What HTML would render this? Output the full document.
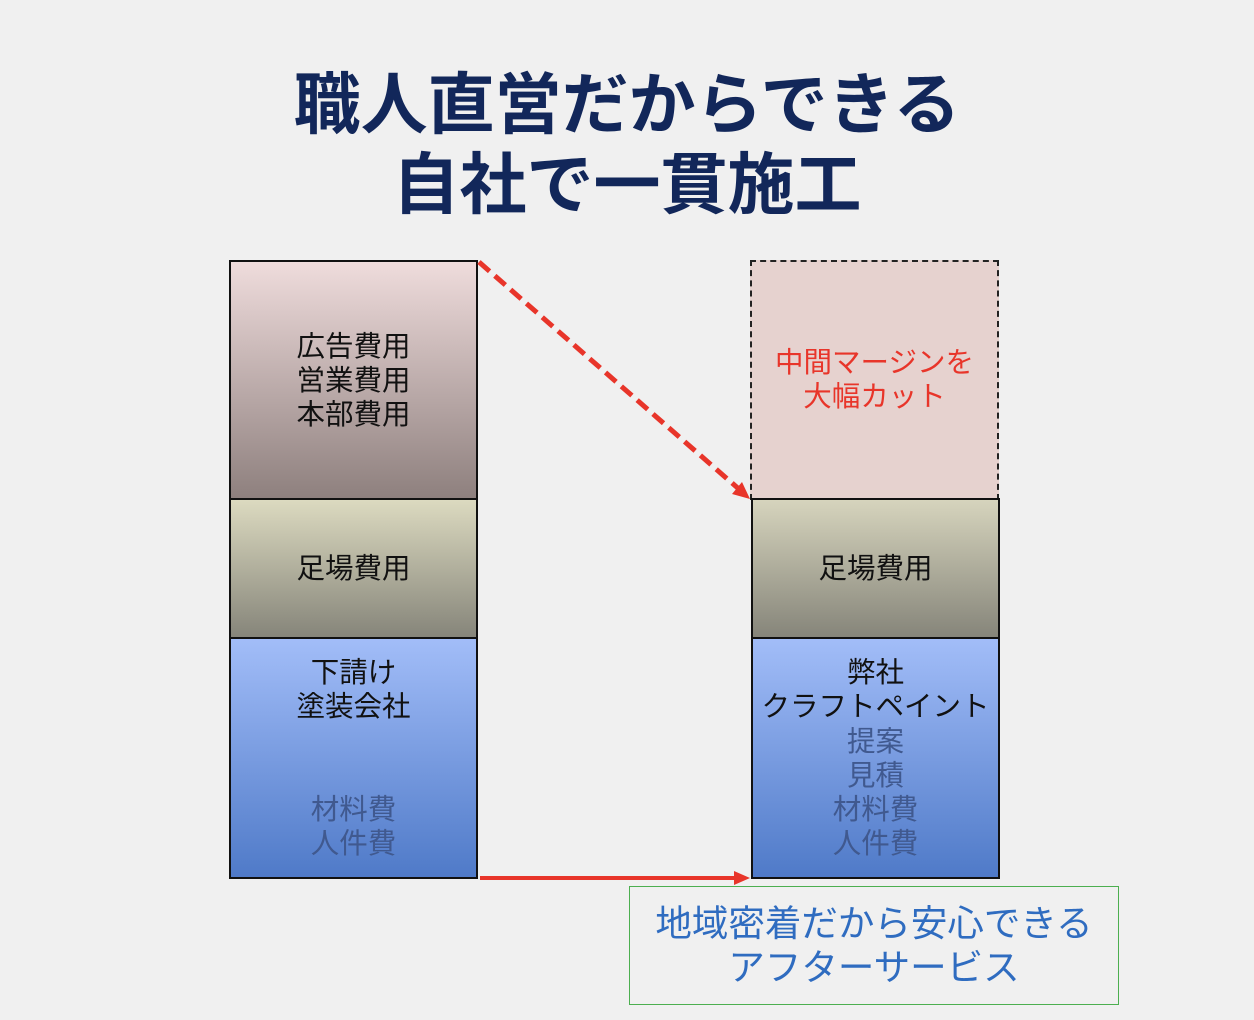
<!DOCTYPE html>
<html><head><meta charset="utf-8"><style>
body{margin:0;width:1254px;height:1020px;background:#f0f0f0;position:relative;overflow:hidden;font-family:"Liberation Sans","Noto Sans CJK JP",sans-serif}
.a{position:absolute;box-sizing:border-box}
.t{position:absolute;left:0;right:0;text-align:center;font-size:28.5px;line-height:34px;color:#111}
.g{color:#40598f}
</style></head><body>
<div class="t" style="top:66px;font-size:67px;line-height:80px;font-weight:bold;color:#12275a;left:0;width:1254px">職人直営だからできる<br>自社で一貫施工</div>

<div class="a" style="left:229px;top:260px;width:249px;height:240px;border:2px solid #111;background:linear-gradient(#efdcdc,#8e807e)"><div class="t" style="top:68px">広告費用<br>営業費用<br>本部費用</div></div>
<div class="a" style="left:229px;top:498px;width:249px;height:141px;border:2px solid #111;background:linear-gradient(#dcdac0,#86857a)"><div class="t" style="top:52px">足場費用</div></div>
<div class="a" style="left:229px;top:637px;width:249px;height:242px;border:2px solid #111;background:linear-gradient(#a2bdf8,#4f7ac8)"><div class="t" style="top:17px">下請け<br>塗装会社</div><div class="t g" style="top:154px">材料費<br>人件費</div></div>

<div class="a" style="left:750px;top:260px;width:249px;height:240px;border:2px dashed #222;background:#e6d2cf"><div class="t" style="top:84px;color:#e8352a">中間マージンを<br>大幅カット</div></div>
<div class="a" style="left:751px;top:498px;width:249px;height:141px;border:2px solid #111;background:linear-gradient(#d6d4bd,#86857a)"><div class="t" style="top:52px">足場費用</div></div>
<div class="a" style="left:751px;top:637px;width:249px;height:242px;border:2px solid #111;background:linear-gradient(#a2bdf8,#4f7ac8)"><div class="t" style="top:17px">弊社<br><span style="white-space:nowrap">クラフトペイント</span></div><div class="t g" style="top:86px">提案<br>見積<br>材料費<br>人件費</div></div>

<svg class="a" style="left:0;top:0" width="1254" height="1020">
<line x1="479" y1="262" x2="740" y2="490" stroke="#e8352a" stroke-width="5" stroke-dasharray="14,7"/>
<polygon points="750,499 732,494 742,482" fill="#e8352a"/>
<line x1="480" y1="878" x2="735" y2="878" stroke="#e8352a" stroke-width="4"/>
<polygon points="750,878 734,871 734,885" fill="#e8352a"/>
</svg>

<div class="a" style="left:629px;top:886px;width:490px;height:119px;border:1.5px solid #4caf50"><div class="t" style="top:15px;font-size:36.5px;line-height:44px;color:#2f6cc0">地域密着だから安心できる<br>アフターサービス</div></div>
</body></html>
